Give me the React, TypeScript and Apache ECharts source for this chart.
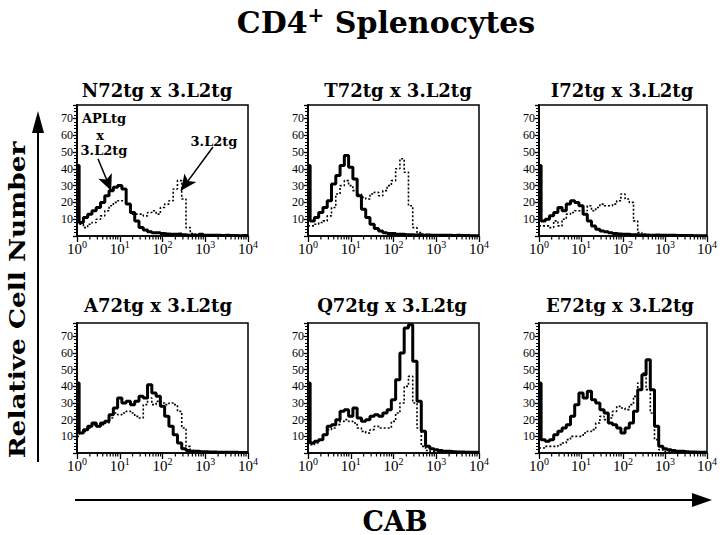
import React, { useEffect, useRef } from "react";
import * as echarts from "echarts";

// log10 channel positions (x), shared by all histograms
const logX = [0, 0.1, 0.2, 0.3, 0.4, 0.5, 0.6, 0.7, 0.8, 0.9, 1, 1.1, 1.2, 1.3, 1.4, 1.5, 1.6, 1.7, 1.8, 1.9, 2, 2.1, 2.2, 2.3, 2.4, 2.5, 2.6, 2.7, 2.8, 2.9, 3, 3.1, 3.2, 3.3, 3.4, 3.5, 3.6, 3.7, 3.8, 3.9, 4];

const panelTitles = ["N72tg x 3.L2tg", "T72tg x 3.L2tg", "I72tg x 3.L2tg", "A72tg x 3.L2tg", "Q72tg x 3.L2tg", "E72tg x 3.L2tg"];

// APLtg x 3.L2tg (solid) and 3.L2tg (dotted)
const solidN72 = [42, 8, 11, 13, 15, 17, 20, 24, 27, 29, 30, 28, 19, 14, 9, 5, 3.5, 2.5, 2, 2, 1.5, 1.2, 1, 1, 1.2, 0.7, 0.5, 0.6, 0.5, 1, 0.5, 0.4, 0.5, 0.4, 0.3, 0.4, 0.3, 0.3, 0.2, 0.3, 0.2];
const dottedN72 = [8, 7, 5, 7, 8, 10, 12, 15, 18, 20, 21, 21, 19, 13, 13, 13, 12, 14, 15, 13, 17, 19, 21, 28, 33, 22, 5, 1.5, 1, 0.8, 0.5, 0.5, 0.4, 0.3, 0.3, 0.3, 0.2, 0.2, 0.2, 0.2, 0.2];
const solidT72 = [42, 9, 11, 14, 17, 21, 31, 36, 42, 48, 41, 34, 24, 16, 11, 7, 4.5, 3, 2, 1.5, 1.5, 1, 1, 0.8, 0.8, 0.6, 0.8, 0.5, 0.6, 0.5, 0.5, 0.4, 0.5, 0.4, 0.3, 0.4, 0.3, 0.3, 0.2, 0.2, 0.2];
const dottedT72 = [6, 6, 7, 8, 9, 12, 17, 25, 30, 33, 30, 27, 25, 23, 22, 25, 26, 24, 27, 30, 33, 40, 46, 38, 18, 5, 2, 1, 0.8, 0.6, 0.5, 0.4, 0.4, 0.3, 0.3, 0.3, 0.2, 0.2, 0.2, 0.2, 0.2];
const solidI72 = [42, 9, 10, 12, 14, 17, 15, 19, 21, 20, 18, 13, 9, 6, 4, 3, 2.5, 2, 1.5, 1.2, 1, 1, 0.8, 0.8, 0.6, 0.6, 0.5, 0.5, 0.6, 0.5, 0.5, 0.4, 0.4, 0.3, 0.3, 0.3, 0.3, 0.2, 0.2, 0.2, 0.2];
const dottedI72 = [6, 6, 6, 5, 9, 6, 10, 13, 14, 15, 15, 15, 18, 15, 17, 19, 18, 18, 19, 21, 25, 22, 20, 9, 2, 1, 0.8, 0.6, 0.5, 0.5, 0.4, 0.4, 0.3, 0.3, 0.3, 0.3, 0.2, 0.2, 0.2, 0.2, 0.2];
const solidA72 = [42, 12, 14, 16, 18, 16, 18, 19, 23, 27, 33, 30, 31, 29, 31, 34, 33, 41, 36, 34, 28, 22, 16, 11, 6, 2.5, 1.5, 1, 1, 0.8, 0.8, 0.6, 0.6, 0.5, 0.5, 0.5, 0.4, 0.4, 0.3, 0.3, 0.3];
const dottedA72 = [10, 12, 13, 15, 17, 16, 17, 18, 21, 24, 23, 24, 25, 24, 22, 21, 29, 33, 29, 31, 30, 29, 30, 29, 25, 15, 4, 1.5, 1, 0.8, 0.6, 0.5, 0.5, 0.4, 0.4, 0.3, 0.3, 0.3, 0.2, 0.2, 0.2];
const solidQ72 = [42, 6, 7, 8, 11, 16, 17, 20, 25, 26, 22, 27, 21, 19, 20, 22, 23, 22, 24, 26, 32, 44, 60, 75, 77, 55, 31, 13, 4, 2.5, 2, 1.5, 1, 1, 0.8, 0.6, 0.6, 0.5, 0.4, 0.4, 0.3];
const dottedQ72 = [6, 5, 6, 8, 11, 14, 15, 17, 19, 20, 19, 18, 15, 13, 12, 14, 16, 15, 15, 15, 19, 24, 30, 40, 46, 30, 15, 4, 1.5, 1, 0.8, 0.6, 0.5, 0.5, 0.4, 0.4, 0.3, 0.3, 0.2, 0.2, 0.2];
const solidE72 = [42, 8, 7, 8, 11, 13, 15, 17, 22, 29, 36, 33, 37, 32, 30, 26, 24, 18, 17, 15, 12, 15, 18, 25, 38, 47, 56, 38, 16, 4, 2.5, 2, 1.5, 1, 1, 0.8, 0.6, 0.6, 0.5, 0.4, 0.4];
const dottedE72 = [3, 3, 4, 4, 4, 5, 6, 8, 10, 10, 10, 12, 13, 14, 18, 22, 20, 21, 25, 28, 27, 26, 29, 34, 42, 48, 38, 24, 8, 2, 1, 0.8, 0.6, 0.5, 0.5, 0.4, 0.4, 0.3, 0.3, 0.2, 0.2];

const solidSeries = [solidN72, solidT72, solidI72, solidA72, solidQ72, solidE72];
const dottedSeries = [dottedN72, dottedT72, dottedI72, dottedA72, dottedQ72, dottedE72];

// decade exponents and minor tick multipliers for log axis
const decades = [0, 1, 2, 3];
const minorMultipliers = [2, 3, 4, 5, 6, 7, 8, 9];
const yMax = 78;

// annotation arrows in panel 1 (data coords: [log x, count])
const annotArrows = [
  [[0.49, 46], [0.8, 27]],
  [[3.18, 53], [2.43, 27]],
];

const gridLefts = [77, 308, 539];
const gridTops = [105, 323];
const gridHeights = [131, 130];
const gridWidth = 171;
const titleCenters = [[157, 90], [398, 90], [622, 90], [158, 305], [392, 305], [620, 305]];

const SERIF_BOLD = "DejaVu Serif";
const TICK_FONT = "Liberation Serif";

export default function App() {
  const ref = useRef<HTMLDivElement>(null);
  useEffect(() => {
    if (!ref.current) return;
    const chart = echarts.init(ref.current, null, { renderer: "svg" });
    const minorTicks: number[] = [];
    decades.forEach((d) => minorMultipliers.forEach((m) => minorTicks.push(d + Math.log10(m))));

    const grids: any[] = [];
    const xAxes: any[] = [];
    const yAxes: any[] = [];
    const series: any[] = [];
    for (let i = 0; i < 6; i++) {
      const row = Math.floor(i / 3);
      const col = i % 3;
      grids.push({
        left: gridLefts[col],
        top: gridTops[row],
        width: gridWidth,
        height: gridHeights[row],
        show: true,
        borderColor: "#000",
        borderWidth: 1.5,
        backgroundColor: "transparent",
      });
      xAxes.push({
        gridIndex: i,
        type: "value",
        min: 0,
        max: 4,
        interval: 1,
        axisLine: { show: true, onZero: false, lineStyle: { color: "#000", width: 1.5 } },
        axisTick: { show: true, inside: false, length: 6, lineStyle: { color: "#000", width: 1.3 } },
        splitLine: { show: false },
        axisLabel: {
          margin: 3,
          color: "#000",
          fontSize: 15,
          fontFamily: TICK_FONT,
          formatter: (v: number) => `{b|10}{s|${v}}`,
          rich: {
            b: { fontSize: 15, fontFamily: TICK_FONT, color: "#000", lineHeight: 19 },
            s: { fontSize: 10, fontFamily: TICK_FONT, color: "#000", lineHeight: 12, verticalAlign: "top" },
          },
        },
      });
      yAxes.push({
        gridIndex: i,
        type: "value",
        min: 0,
        max: yMax,
        interval: 10,
        axisLine: { show: true, onZero: false, lineStyle: { color: "#000", width: 2 } },
        axisTick: { show: true, inside: false, length: 4, lineStyle: { color: "#000", width: 1.3 } },
        minorTick: { show: true, splitNumber: 5, length: 3, lineStyle: { color: "#000", width: 1 } },
        splitLine: { show: false },
        minorSplitLine: { show: false },
        axisLabel: {
          margin: 4,
          color: "#000",
          fontSize: 12,
          fontFamily: TICK_FONT,
          showMaxLabel: false,
          formatter: (v: number) => (v === 0 || v > 70 ? "" : String(v)),
        },
      });
      series.push({
        type: "line",
        xAxisIndex: i,
        yAxisIndex: i,
        step: "middle",
        symbol: "none",
        z: 2,
        lineStyle: { color: "#000", width: 1.6, type: [2, 2] },
        data: logX.map((x, k) => [x, dottedSeries[i][k]]),
      });
      const solid: any = {
        type: "line",
        xAxisIndex: i,
        yAxisIndex: i,
        step: "middle",
        symbol: "none",
        z: 3,
        lineStyle: { color: "#000", width: 3 },
        data: logX.map((x, k) => [x, solidSeries[i][k]]),
      };
      if (i === 0) {
        solid.markLine = {
          silent: true,
          symbol: ["none", "arrow"],
          symbolSize: [11, 16],
          lineStyle: { color: "#000", width: 1.5, type: "solid" },
          label: { show: false },
          data: annotArrows.map((a) => [{ coord: a[0] }, { coord: a[1] }]),
        };
      }
      series.push(solid);
      series.push({
        type: "custom",
        xAxisIndex: i,
        yAxisIndex: i,
        silent: true,
        clip: false,
        z: 4,
        data: minorTicks.map((v) => [v, 0]),
        renderItem: (params: any, api: any) => {
          const p = api.coord([api.value(0), 0]);
          return {
            type: "line",
            shape: { x1: p[0], y1: p[1], x2: p[0], y2: p[1] + 3.5 },
            style: { stroke: "#000", lineWidth: 1.2 },
          };
        },
      });
    }

    const txt = (x: number, y: number, text: string, size: number, extra: any = {}) => ({
      type: "text",
      x,
      y,
      ...extra,
      style: {
        text,
        font: `bold ${size}px ${SERIF_BOLD}`,
        fill: "#000",
        align: "center",
        verticalAlign: "middle",
        textAlign: "center",
        textVerticalAlign: "middle",
      },
    });

    const graphic: any[] = [
      {
        type: "text",
        x: 386,
        y: 22,
        style: {
          text: "{a|CD4}{s|+}{a| Splenocytes}",
          rich: {
            a: { font: `bold 30px ${SERIF_BOLD}`, fill: "#000", lineHeight: 34 },
            s: { font: `bold 20px ${SERIF_BOLD}`, fill: "#000", lineHeight: 22, verticalAlign: "top" },
          },
          align: "center",
          verticalAlign: "middle",
          textAlign: "center",
          textVerticalAlign: "middle",
        },
      },
      ...panelTitles.map((t, i) => txt(titleCenters[i][0], titleCenters[i][1], t, 18)),
      txt(104, 118, "APLtg", 13),
      txt(100, 135, "x", 13),
      txt(104, 150, "3.L2tg", 13),
      txt(214, 141, "3.L2tg", 13),
      // y-axis arrow
      { type: "line", shape: { x1: 38, y1: 128, x2: 38, y2: 462 }, style: { stroke: "#000", lineWidth: 2 } },
      { type: "polygon", shape: { points: [[38, 111], [32, 133], [44, 133]] }, style: { fill: "#000" } },
      txt(17, 300, "Relative Cell Number", 22, { rotation: Math.PI / 2, scaleX: 1.2 }),
      // x-axis arrow
      { type: "line", shape: { x1: 75, y1: 500, x2: 695, y2: 500 }, style: { stroke: "#000", lineWidth: 2 } },
      { type: "polygon", shape: { points: [[712, 500], [692, 493], [692, 507]] }, style: { fill: "#000" } },
      txt(395, 521, "CAB", 27),
    ];

    chart.setOption({
      animation: false,
      backgroundColor: "#fff",
      grid: grids,
      xAxis: xAxes,
      yAxis: yAxes,
      series,
      graphic,
    });
    return () => chart.dispose();
  }, []);
  return (
    <div
      ref={ref}
      style={{ position: "fixed", left: 0, top: 0, width: 720, height: 535, background: "#fff" }}
    />
  );
}
